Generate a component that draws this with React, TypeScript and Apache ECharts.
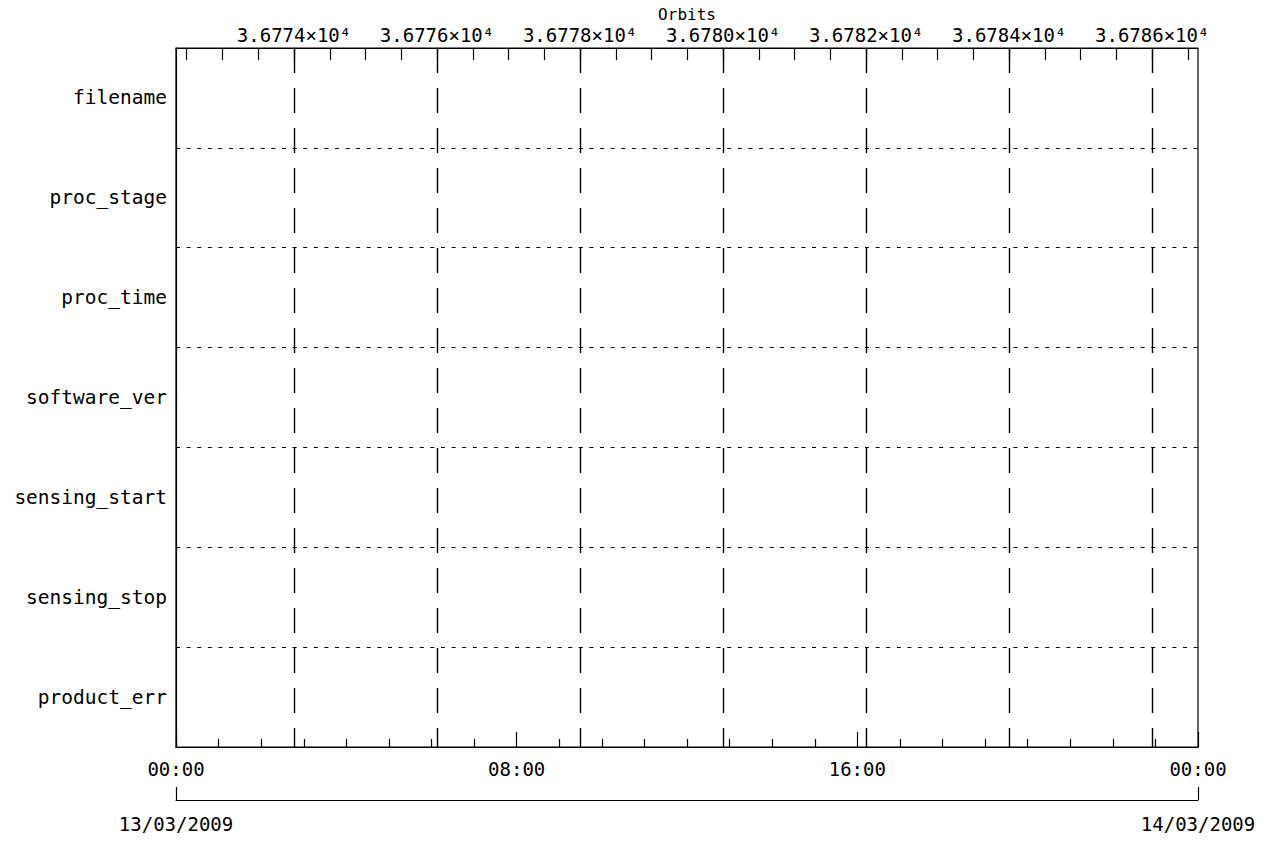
import React, { useEffect, useRef } from "react";
import * as echarts from "echarts";

const CATEGORIES = [
  "filename",
  "proc_stage",
  "proc_time",
  "software_ver",
  "sensing_start",
  "sensing_stop",
  "product_err",
];

// Orbit axis (top)
const ORBIT_MIN = 36772.35;
const ORBIT_MAX = 36786.64;
const ORBIT_TICKS = [36774, 36776, 36778, 36780, 36782, 36784, 36786];
const ORBIT_MINOR_STEP = 0.5;

// Time axis (bottom), hours from 13/03/2009 00:00
const HOUR_MIN = 0;
const HOUR_MAX = 24;
const TIME_LABELS = ["00:00", "08:00", "16:00", "00:00"];
const DATE_LABELS = ["13/03/2009", "14/03/2009"];

const FONT = "DejaVu Sans Mono";

export default function App() {
  const ref = useRef<HTMLDivElement>(null);

  useEffect(() => {
    if (!ref.current) return;
    const chart = echarts.init(ref.current, null, { renderer: "svg" });

    const minorOrbitTicks: number[] = [];
    for (
      let v = Math.ceil(ORBIT_MIN / ORBIT_MINOR_STEP) * ORBIT_MINOR_STEP;
      v <= ORBIT_MAX;
      v += ORBIT_MINOR_STEP
    ) {
      minorOrbitTicks.push(v);
    }

    const textBase = { color: "#000", fontFamily: FONT, fontSize: 19 };
    const lineBlack = { color: "#000", width: 1.2 };

    chart.setOption({
      animation: false,
      backgroundColor: "#fff",
      grid: {
        show: true,
        left: 176,
        right: 73,
        top: 48,
        bottom: 97,
        borderColor: "#000",
        borderWidth: 1.2,
        backgroundColor: "transparent",
      },
      xAxis: [
        {
          type: "value",
          position: "bottom",
          min: HOUR_MIN,
          max: HOUR_MAX,
          interval: 8,
          axisLine: { show: true, lineStyle: lineBlack },
          axisTick: { show: true, inside: true, length: 15, lineStyle: lineBlack },
          minorTick: { show: true, splitNumber: 8, length: 8, lineStyle: lineBlack },
          splitLine: { show: false },
          axisLabel: {
            ...textBase,
            margin: 12,
            formatter: (v: number) => TIME_LABELS[Math.round(v / 8)] ?? "",
          },
        },
        {
          type: "value",
          position: "top",
          min: ORBIT_MIN,
          max: ORBIT_MAX,
          name: "Orbits",
          nameLocation: "middle",
          nameGap: 26,
          nameMoveOverlap: false,
          nameTextStyle: { color: "#000", fontFamily: FONT, fontSize: 16, lineHeight: 16 },
          axisLine: { show: true, lineStyle: lineBlack },
          axisTick: {
            show: true,
            inside: true,
            length: 12,
            customValues: minorOrbitTicks,
            lineStyle: lineBlack,
          },
          splitLine: { show: false },
          axisLabel: {
            ...textBase,
            lineHeight: 19,
            margin: 4,
            customValues: ORBIT_TICKS,
            formatter: (v: number) => (v / 10000).toFixed(4) + "×10⁴",
          },
        },
        {
          type: "value",
          position: "bottom",
          offset: 53,
          min: HOUR_MIN,
          max: HOUR_MAX,
          interval: 24,
          axisLine: { show: true, lineStyle: lineBlack },
          axisTick: { show: true, inside: true, length: 13, lineStyle: lineBlack },
          splitLine: { show: false },
          axisLabel: {
            ...textBase,
            margin: 14,
            formatter: (v: number) => DATE_LABELS[Math.round(v / 24)] ?? "",
          },
        },
      ],
      yAxis: [
        {
          type: "category",
          inverse: true,
          data: CATEGORIES,
          axisLine: { show: true, lineStyle: lineBlack },
          axisTick: { show: false },
          splitLine: {
            show: true,
            lineStyle: { color: "#000", width: 1, type: [4, 6.6] },
          },
          axisLabel: { ...textBase, fontSize: 19.5, margin: 9 },
        },
      ],
      series: [
        {
          type: "line",
          xAxisIndex: 1,
          yAxisIndex: 0,
          data: [],
          silent: true,
          markLine: {
            silent: true,
            symbol: ["none", "none"],
            label: { show: false },
            lineStyle: { color: "#000", width: 1.4, type: [25, 15] },
            data: ORBIT_TICKS.map((v) => ({ xAxis: v })),
          },
        },
      ],
    });

    return () => chart.dispose();
  }, []);

  return (
    <div
      ref={ref}
      style={{ position: "fixed", left: 0, top: 0, width: 1271, height: 844, background: "#fff" }}
    />
  );
}
